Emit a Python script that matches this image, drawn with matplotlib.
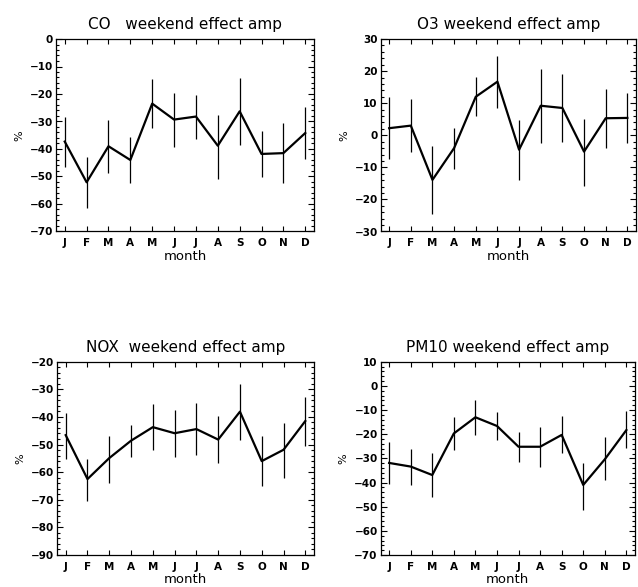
import matplotlib
matplotlib.use("Agg")
import matplotlib.pyplot as plt
from matplotlib.ticker import MultipleLocator, FixedLocator
import numpy as np

months = ["J", "F", "M", "A", "M", "J", "J", "A", "S", "O", "N", "D"]

co_val = [-37.3, -52.1, -39.0, -44.0, -23.5, -29.3, -28.2, -38.8, -26.3, -41.8, -41.5, -34.2]
co_hi = [-28.5, -42.8, -29.4, -35.8, -14.7, -19.7, -20.3, -27.5, -14.2, -33.3, -30.6, -24.6]
co_lo = [-46.6, -61.4, -48.8, -52.4, -32.5, -39.1, -36.3, -50.9, -38.5, -50.3, -52.4, -43.7]

o3_val = [2.2, 3.0, -13.9, -4.0, 12.0, 16.7, -4.5, 9.2, 8.5, -5.1, 5.3, 5.4]
o3_hi = [11.8, 11.3, -3.4, 2.3, 18.1, 24.8, 4.6, 20.7, 19.1, 5.0, 14.5, 13.2]
o3_lo = [-7.5, -5.3, -24.5, -10.4, 5.9, 8.5, -13.8, -2.5, -2.1, -15.7, -3.9, -2.4]

nox_val = [-46.6, -62.5, -54.9, -48.6, -43.7, -45.9, -44.4, -48.2, -38.1, -56.0, -51.9, -41.5]
nox_hi = [-38.5, -55.1, -46.8, -42.9, -35.3, -37.6, -35.1, -39.7, -28.1, -46.9, -42.1, -32.7]
nox_lo = [-55.4, -70.4, -63.8, -54.4, -52.1, -54.4, -53.7, -56.6, -48.4, -65.0, -62.0, -50.5]

pm_val = [-31.9, -33.4, -36.9, -19.7, -13.0, -16.6, -25.2, -25.2, -20.3, -41.0, -30.4, -18.3]
pm_hi = [-23.1, -26.1, -27.9, -13.0, -5.9, -10.7, -19.1, -16.9, -12.5, -31.8, -21.0, -10.4]
pm_lo = [-40.8, -41.0, -45.9, -26.4, -20.3, -22.4, -31.7, -33.7, -27.9, -51.4, -39.0, -25.9]

titles = ["CO   weekend effect amp", "O3 weekend effect amp",
          "NOX  weekend effect amp", "PM10 weekend effect amp"]
yranges = [(-70, 0), (-30, 30), (-90, -20), (-70, 10)]

panels = [(co_val, co_hi, co_lo), (o3_val, o3_hi, o3_lo),
          (nox_val, nox_hi, nox_lo), (pm_val, pm_hi, pm_lo)]

W, H = 638, 587
rects = [
    [56 / W, 1 - 231.5 / H, 258 / W, 192.5 / H],
    [380.5 / W, 1 - 231.5 / H, 255.5 / W, 192.5 / H],
    [57 / W, 1 - 555 / H, 257 / W, 193.3 / H],
    [380.5 / W, 1 - 555 / H, 254.5 / W, 193.3 / H],
]

fig = plt.figure(figsize=(W / 100, H / 100), dpi=100)
x = np.arange(1, 13)

for rect, (val, hi, lo), title, yr in zip(rects, panels, titles, yranges):
    ax = fig.add_axes(rect)
    ax.vlines(x, lo, hi, color="black", linewidth=0.9)
    ax.plot(x, val, color="black", linewidth=1.6)
    ax.set_xlim(0.6, 12.4)
    ax.set_ylim(*yr)
    ax.xaxis.set_major_locator(FixedLocator(x))
    ax.set_xticklabels(months)
    ax.yaxis.set_major_locator(MultipleLocator(10))
    ax.yaxis.set_minor_locator(MultipleLocator(2))
    ax.tick_params(axis="both", which="both", direction="in", top=True, right=True,
                   color="black", width=0.8)
    ax.tick_params(axis="x", which="major", length=3.5, labelsize=7.5, pad=5)
    ax.tick_params(axis="y", which="major", length=4, labelsize=7.5, pad=2)
    ax.tick_params(axis="y", which="minor", length=2)
    for lab in ax.get_xticklabels() + ax.get_yticklabels():
        lab.set_fontweight("bold")
    for sp in ax.spines.values():
        sp.set_linewidth(0.9)
    ax.set_title(title, fontsize=11, pad=7)
    ax.set_xlabel("month", fontsize=9.5, labelpad=1)
    ax.set_ylabel("%", fontsize=8, labelpad=4)

fig.savefig("out.png", dpi=100)
